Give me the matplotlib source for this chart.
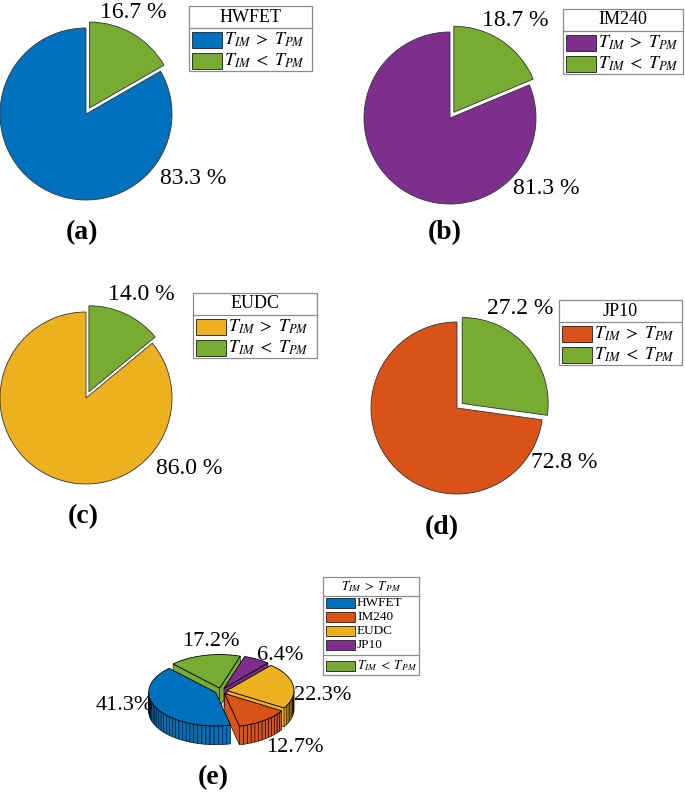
import matplotlib.pyplot as plt
import numpy as np
from matplotlib.patches import Polygon, Rectangle

plt.rcParams['font.family'] = ['Liberation Serif', 'DejaVu Serif']
plt.rcParams['mathtext.fontset'] = 'stix'

# data
cycles = ['HWFET', 'IM240', 'EUDC', 'JP10']
share_above = [83.3, 81.3, 86.0, 72.8]   # T_IM > T_PM
share_below = [16.7, 18.7, 14.0, 27.2]   # T_IM < T_PM
panel_colors = ['#0072BD', '#7E2F8E', '#EDB120', '#D95319']
green = '#77AC30'

overall_names = ['HWFET', 'IM240', 'EUDC', 'JP10']
overall_share = [41.3, 12.7, 22.3, 6.4, 17.2]   # last one: T_IM < T_PM
overall_colors = ['#0072BD', '#D95319', '#EDB120', '#7E2F8E', green]

lbl_gt = r'$T_{IM}\;>\;T_{PM}$'
lbl_lt = r'$T_{IM}\;<\;T_{PM}$'

W, H = 685, 794
fig = plt.figure(figsize=(W / 100, H / 100), dpi=100)


def px_axes(cx, cy, hw, hh):
    # axes centred on pixel (cx, cy), top-left origin
    return fig.add_axes([(cx - hw) / W, (H - cy - hh) / H, 2 * hw / W, 2 * hh / H])


# 2D pies (a)-(d)
R = 86
S = 110
centers = [(86, 114), (450, 118), (86, 398), (457, 408)]
for i in range(4):
    ax = px_axes(*centers[i], S, S)
    ax.pie([share_above[i], share_below[i]], colors=[panel_colors[i], green],
           explode=[0, 0.08], startangle=90, counterclock=True,
           wedgeprops=dict(edgecolor='#333333', linewidth=0.6))
    ax.set_xlim(-S / R, S / R)
    ax.set_ylim(-S / R, S / R)
    ax.axis('off')


# 3D-looking pie (e)
def pie3(ax, values, colors, start=134, explode=0.09, h=0.28, tilt=0.5):
    fr = np.array(values) / np.sum(values)
    edges = np.radians(start + 360 * np.concatenate([[0], np.cumsum(fr)]))
    walls, tops = [], []
    for i, c in enumerate(colors):
        t0, t1 = edges[i], edges[i + 1]
        tm = (t0 + t1) / 2
        ox, oy = explode * np.cos(tm), explode * np.sin(tm)
        n = max(2, int(np.ceil(100 * fr[i])) + 1)
        th = np.linspace(t0, t1, n)
        gx, gy = ox + np.cos(th), oy + np.sin(th)
        tops.append(([(ox, tilt * oy)] + list(zip(gx, tilt * gy)), c))
        for k in range(n - 1):
            if np.sin((th[k] + th[k + 1]) / 2) < 0:
                q = [(gx[k], tilt * gy[k]), (gx[k + 1], tilt * gy[k + 1]),
                     (gx[k + 1], tilt * gy[k + 1] - h), (gx[k], tilt * gy[k] - h)]
                walls.append(((gy[k] + gy[k + 1]) / 2, q, c))
        for t, vis in ((t0, np.cos(t0) > 0), (t1, np.cos(t1) < 0)):
            if vis:
                ex, ey = ox + np.cos(t), oy + np.sin(t)
                q = [(ox, tilt * oy), (ex, tilt * ey), (ex, tilt * ey - h), (ox, tilt * oy - h)]
                walls.append(((oy + ey) / 2, q, c))
    for d, q, c in sorted(walls, key=lambda w: -w[0]):
        ax.add_patch(Polygon(q, closed=True, facecolor=c, edgecolor='k', lw=0.4))
    for q, c in tops:
        ax.add_patch(Polygon(q, closed=True, facecolor=c, edgecolor='k', lw=0.6))


R3 = 67
ax3 = px_axes(221, 691, 110, 70)
pie3(ax3, overall_share, overall_colors)
ax3.set_xlim(-110 / R3, 110 / R3)
ax3.set_ylim(-70 / R3, 70 / R3)
ax3.axis('off')

# overlay in pixel coordinates for labels and legends
ov = fig.add_axes([0, 0, 1, 1])
ov.set_xlim(0, W)
ov.set_ylim(H, 0)
ov.axis('off')
ov.patch.set_alpha(0)

pct_fs = 17
above_pos = [(193, 178), (546, 189), (189, 468), (564, 463)]
below_pos = [(133, 12), (515, 20), (141, 295), (520, 309)]
tag_pos = [(82, 233), (445, 233), (83, 517), (442, 528)]
for i in range(4):
    ov.text(*above_pos[i], f'{share_above[i]:.1f} %', fontsize=pct_fs, ha='center', va='center')
    ov.text(*below_pos[i], f'{share_below[i]:.1f} %', fontsize=pct_fs, ha='center', va='center')
    ov.text(*tag_pos[i], f'({"abcd"[i]})', fontsize=20, fontweight='bold', ha='center', va='center')

e_pos = [(124, 706), (295, 748), (323, 696), (280, 655), (211, 642)]
for v, p in zip(overall_share, e_pos):
    ov.text(*p, f'{v:.1f}%', fontsize=16, ha='center', va='center')
ov.text(213, 778, '(e)', fontsize=20, fontweight='bold', ha='center', va='center')

frame_c = '#8c8c8c'


def box_legend(x0, x1, y0, title, sep, rows, y1, fs, pw, ph, extra_seps=()):
    ov.add_patch(Rectangle((x0, y0), x1 - x0, y1 - y0, facecolor='white',
                           edgecolor=frame_c, lw=0.9))
    ov.text((x0 + x1) / 2, (y0 + sep) / 2, title, fontsize=fs, ha='center', va='center')
    for s in (sep,) + tuple(extra_seps):
        ov.plot([x0, x1], [s, s], color=frame_c, lw=0.9)
    for yc, c, lab in rows:
        ov.add_patch(Rectangle((x0 + 3, yc - ph / 2), pw, ph, facecolor=c,
                               edgecolor='#333333', lw=0.7))
        ov.text(x0 + 5 + pw, yc, lab, fontsize=fs, ha='left', va='center')


leg_boxes = [(189, 312, 6), (563, 683, 9), (193, 317, 293), (559, 682, 300)]
for i in range(4):
    x0, x1, y0 = leg_boxes[i]
    sep = y0 + 22
    box_legend(x0, x1, y0, cycles[i], sep,
               [(sep + 12, panel_colors[i], lbl_gt), (sep + 33, green, lbl_lt)],
               sep + 43, 13, 30, 16)

rows_e = [(603 + 14 * k, overall_colors[k], overall_names[k]) for k in range(4)]
rows_e.append((666, green, lbl_lt))
box_legend(323, 419, 577, lbl_gt, 596, rows_e, 675, 9.5, 29, 10, extra_seps=(655,))

fig.savefig('out.png', dpi=100)
